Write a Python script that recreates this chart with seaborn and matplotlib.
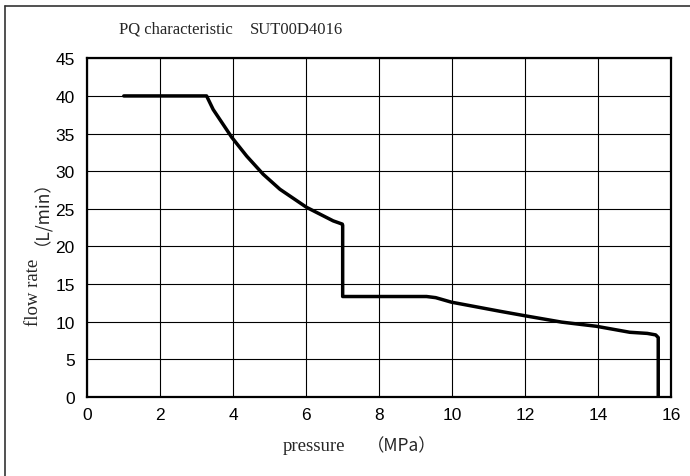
import matplotlib
matplotlib.use("Agg")
import matplotlib.pyplot as plt
import seaborn as sns
import pandas as pd
from matplotlib.lines import Line2D

# Data
pressure = [1.0, 3.27, 3.45, 3.96, 4.37, 4.82, 5.28, 6.01, 6.74, 6.99, 7.0, 7.0,
            9.3, 9.55, 9.98, 11.3, 11.99, 13.0, 13.95, 14.87, 15.35, 15.58, 15.65, 15.65]
flow = [40.0, 40.0, 38.2, 34.5, 32.0, 29.6, 27.6, 25.2, 23.4, 22.97, 22.8, 13.35,
        13.35, 13.2, 12.6, 11.4, 10.8, 9.95, 9.4, 8.6, 8.45, 8.25, 7.9, 0.0]
x_ticks = [0, 2, 4, 6, 8, 10, 12, 14, 16]
y_ticks = [0, 5, 10, 15, 20, 25, 30, 35, 40, 45]

df = pd.DataFrame({"pressure": pressure, "flow": flow})

sns.set_theme(style="white")
plt.rcParams["font.family"] = ["Liberation Sans", "Noto Sans CJK JP", "DejaVu Sans"]

fig = plt.figure(figsize=(6.9, 4.77), dpi=100)
ax = fig.add_axes([87.3 / 690, 1 - 398 / 477, (671 - 87.3) / 690, (398 - 59.3) / 477])

sns.lineplot(data=df, x="pressure", y="flow", sort=False, ax=ax,
             color="black", linewidth=2.5, estimator=None)
ax.lines[0].set_solid_joinstyle("round")

ax.set_xlim(0, 16)
ax.set_ylim(0, 45)
ax.set_xticks(x_ticks)
ax.set_yticks(y_ticks)
ax.set_xticklabels([str(t) for t in x_ticks], fontsize=12.5, color="black")
ax.set_yticklabels([str(t) for t in y_ticks], fontsize=12.5, color="black")
ax.tick_params(axis="x", length=0, pad=7)
ax.tick_params(axis="y", length=0, pad=9)
ax.grid(True, color="black", linewidth=0.8)
for s in ax.spines.values():
    s.set_visible(True)
    s.set_color("black")
    s.set_linewidth(1.6)
ax.set_xlabel("")
ax.set_ylabel("")

# Title
fig.text(119 / 690, 1 - 30 / 477, "PQ characteristic", fontsize=12,
         family=["Liberation Serif"], ha="left", va="center")
fig.text(250 / 690, 1 - 30 / 477, "SUT00D4016", fontsize=12,
         family=["Liberation Serif"], ha="left", va="center")

# X label
fig.text(283 / 690, 1 - 447 / 477, "pressure", fontsize=13.5,
         family=["Liberation Serif"], ha="left", va="center")
fig.text(367 / 690, 1 - 446 / 477, "（MPa）", fontsize=12.5,
         family=["Noto Sans CJK JP"], ha="left", va="center")

# Y label
fig.text(33 / 690, 1 - 292 / 477, "flow rate", fontsize=13.5, rotation=90,
         family=["Liberation Serif"], ha="center", va="center")
fig.text(33 / 690, 1 - 204 / 477, "（L/min）", fontsize=12.5, rotation=90,
         family=["Noto Sans CJK JP"], ha="center", va="center")

# Figure border (top and left visible)
fig.add_artist(Line2D([5 / 690, 1.0], [1 - 7 / 477, 1 - 7 / 477],
                      transform=fig.transFigure, color="#333333", linewidth=1.2))
fig.add_artist(Line2D([5 / 690, 5 / 690], [0.0, 1 - 7 / 477],
                      transform=fig.transFigure, color="#333333", linewidth=1.2))

fig.savefig("out.png", dpi=100)
